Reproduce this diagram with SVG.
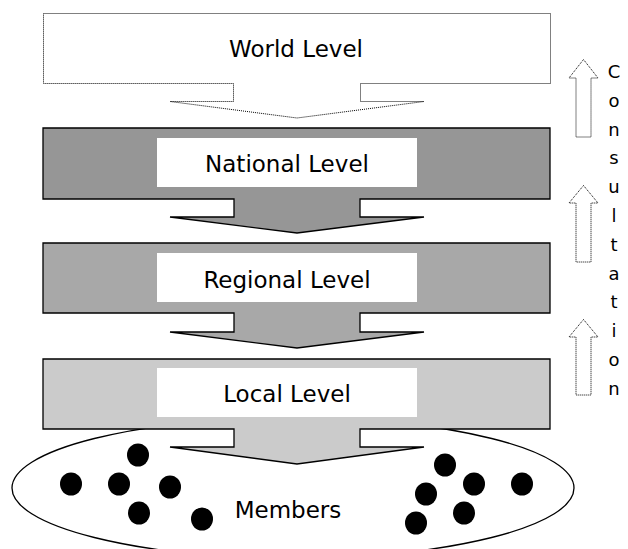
<svg xmlns="http://www.w3.org/2000/svg" width="628" height="549" viewBox="0 0 628 549">
<style>
.lbl{font-family:"DejaVu Sans","Liberation Sans",sans-serif;font-size:23px;fill:#000;text-anchor:middle}
.cons{font-family:"DejaVu Sans","Liberation Sans",sans-serif;font-size:18px;fill:#000;text-anchor:middle}
.box{stroke:#000;stroke-width:1.3}
.dotted{fill:#fff;stroke:#000;stroke-width:1;stroke-dasharray:1 1}
.white{fill:#fff}
.dot{fill:#000}
</style>
<rect width="628" height="549" fill="#fff"/>
<g id="members">
<ellipse cx="293" cy="488" rx="281" ry="70" fill="#fff" stroke="#000" stroke-width="1.3"/>
<ellipse class="dot" cx="138" cy="455" rx="11" ry="11.5"/>
<ellipse class="dot" cx="71" cy="484" rx="11" ry="11.5"/>
<ellipse class="dot" cx="119" cy="484" rx="11" ry="11.5"/>
<ellipse class="dot" cx="170" cy="487" rx="11" ry="11.5"/>
<ellipse class="dot" cx="139" cy="513" rx="11" ry="11.5"/>
<ellipse class="dot" cx="202" cy="519" rx="11" ry="11.5"/>
<ellipse class="dot" cx="445" cy="465" rx="11" ry="11.5"/>
<ellipse class="dot" cx="474" cy="484" rx="11" ry="11.5"/>
<ellipse class="dot" cx="522" cy="484" rx="11" ry="11.5"/>
<ellipse class="dot" cx="426" cy="494" rx="11" ry="11.5"/>
<ellipse class="dot" cx="464" cy="513" rx="11" ry="11.5"/>
<ellipse class="dot" cx="416" cy="523" rx="11" ry="11.5"/>
<text class="lbl" x="288" y="518">Members</text>
</g>
<g id="world">
<path class="dotted" d="M43.5,13.5 H550.5 V83.5 H360.5 V101.5 H424 L297,118 L170,101.5 H233.5 V83.5 H43.5 Z"/>
<text class="lbl" x="296" y="57">World Level</text>
</g>
<g id="national">
<path class="box" fill="#969696" d="M43,128 H550 V199 H360 V217 H424 L297,233 L170,217 H234 V199 H43 Z"/>
<rect class="white" x="157" y="138" width="260" height="49"/>
<text class="lbl" x="287" y="172">National Level</text>
</g>
<g id="regional">
<path class="box" fill="#a8a8a8" d="M43,243 H550 V313 H360 V332 H424 L297,348 L170,332 H234 V313 H43 Z"/>
<rect class="white" x="157" y="253" width="260" height="49"/>
<text class="lbl" x="287" y="288">Regional Level</text>
</g>
<g id="local">
<path class="box" fill="#cbcbcb" d="M43,359 H550 V429 H360 V447 H424 L297,464 L170,447 H234 V429 H43 Z"/>
<rect class="white" x="157" y="368" width="260" height="49"/>
<text class="lbl" x="287" y="402">Local Level</text>
</g>
<g id="connectors">
<path class="dotted" d="M583.5,59.5 L598,78 H591 V137 H576 V78 H569 Z"/>
<path class="dotted" d="M583.5,185.5 L598,203 H591 V262 H576 V203 H569 Z"/>
<path class="dotted" d="M583.5,319.5 L598,337 H591 V395 H576 V337 H569 Z"/>
</g>
<g id="consultation">
<text class="cons" x="614" y="78">C</text>
<text class="cons" x="614" y="107">o</text>
<text class="cons" x="614" y="136">n</text>
<text class="cons" x="614" y="164">s</text>
<text class="cons" x="614" y="193">u</text>
<text class="cons" x="614" y="222">l</text>
<text class="cons" x="614" y="251">t</text>
<text class="cons" x="614" y="280">a</text>
<text class="cons" x="614" y="308">t</text>
<text class="cons" x="614" y="337">i</text>
<text class="cons" x="614" y="366">o</text>
<text class="cons" x="614" y="395">n</text>
</g>
</svg>
